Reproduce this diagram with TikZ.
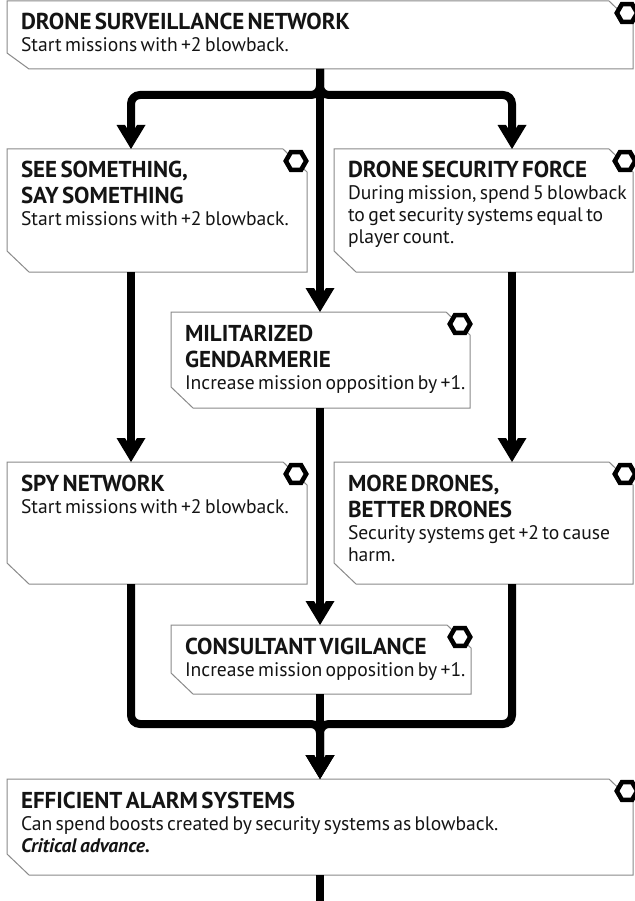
\documentclass[tikz,border=0pt]{standalone}
\usepackage{fontspec}
\setmainfont{PT Sans}
\newfontfamily\ttlfamily{PT Sans}
\usetikzlibrary{arrows.meta}
\setlength{\parindent}{0pt}
\definecolor{boxgray}{HTML}{8A8A8A}
\definecolor{ink}{HTML}{141414}
\pgfdeclarearrow{
  name = Chev,
  setup code = {
    \pgfarrowssettipend{0pt}
    \pgfarrowssetlineend{-12pt}
    \pgfarrowssetbackend{-24pt}
    \pgfarrowssetvisualbackend{-24pt}
    \pgfarrowshullpoint{0pt}{0pt}
    \pgfarrowshullpoint{-24pt}{14.5pt}
    \pgfarrowshullpoint{-24pt}{-14.5pt}
  },
  drawing code = {
    \pgfpathmoveto{\pgfqpoint{0pt}{0pt}}
    \pgfpathlineto{\pgfqpoint{-24pt}{14.5pt}}
    \pgfpathlineto{\pgfqpoint{-24pt}{6pt}}
    \pgfpathlineto{\pgfqpoint{-20.7pt}{4pt}}
    \pgfpathlineto{\pgfqpoint{-20.7pt}{-4pt}}
    \pgfpathlineto{\pgfqpoint{-24pt}{-6pt}}
    \pgfpathlineto{\pgfqpoint{-24pt}{-14.5pt}}
    \pgfpathclose
    \pgfusepathqfill
  },
  defaults = {}
}
\tikzset{
  conn/.style={line width=8pt, draw=black, rounded corners=9pt, line cap=butt},
  arr/.style={-Chev},
  boxline/.style={draw=boxgray, line width=1pt, fill=white, line join=miter},
  hexa/.style={draw=black, line width=4.6pt, fill=white, line join=miter},
  txt/.style={anchor=north west, inner sep=0pt, outer sep=0pt, align=left, text=ink, text width=620pt},
  frame/.style={inner sep=0pt, outer sep=0pt, anchor=north west, draw=none}
}
\newcommand\ttl{\ttlfamily\bfseries\fontsize{23}{26}\selectfont\rule{0pt}{20pt}}
\newcommand\bdy{\fontsize{19.6}{22}\selectfont}
% name, x0, y0, x1, y1, bottom-left chamfer height, hexagon x offset from right, content
\newcommand\cbox[8]{%
  \draw[boxline] (#2,#3) -- (#4-24,#3) -- (#4,#3+23) -- (#4,#5) -- (#2+22,#5) -- (#2,#5-#6) -- cycle;
  \node[frame, minimum width=\dimexpr #4pt-#2pt\relax, minimum height=\dimexpr #5pt-#3pt\relax] (#1) at (#2,#3) {};
  \node[txt] (#1-t) at (#2+14,#3+9) {#8};
  \draw[hexa] (#4-#7,#3+12) +(0:10.2) -- +(60:10.2) -- +(120:10.2) -- +(180:10.2) -- +(240:10.2) -- +(300:10.2) -- cycle;
}
\begin{document}
\begin{tikzpicture}[x=1pt, y=-1pt]
\useasboundingbox (0,0) rectangle (634,901);
\fill[white] (0,0) rectangle (634,901);

\coordinate (colL) at (131,0);
\coordinate (colR) at (512,0);
\coordinate (fork) at (320,95);
\coordinate (join) at (320,724);
\coordinate (endb) at (320,910);

\cbox{top}{7}{1}{633}{69}{16}{6}{{\ttl DRONE SURVEILLANCE NETWORK\par}{\bdy Start missions with +2 blowback.\par}}
\cbox{see}{7}{149}{307}{272}{21}{11}{{\ttl SEE SOMETHING,\\SAY SOMETHING\par}{\bdy Start missions with +2 blowback.\par}}
\cbox{dsf}{334}{149}{633}{272}{21}{8}{{\ttl DRONE SECURITY FORCE\par}{\bdy During mission, spend 5 blowback\\to get security systems equal to\\player count.\par}}
\cbox{mil}{171}{312}{470}{408}{21}{10}{{\ttl MILITARIZED\\GENDARMERIE\par}{\bdy Increase mission opposition by +1.\par}}
\cbox{spy}{7}{462}{307}{584}{21}{11}{{\ttl SPY NETWORK\par}{\bdy Start missions with +2 blowback.\par}}
\cbox{more}{334}{462}{633}{584}{21}{8}{{\ttl MORE DRONES,\\BETTER DRONES\par}{\bdy Security systems get +2 to cause\\harm.\par}}
\cbox{cons}{171}{625}{471}{694}{21}{11}{{\ttl CONSULTANT VIGILANCE\par}{\bdy Increase mission opposition by +1.\par}}
\cbox{eff}{7}{779}{633}{875}{21}{6}{{\ttl EFFICIENT ALARM SYSTEMS\par}{\bdy\rule{0pt}{17pt}Can spend boosts created by security systems as blowback.\\{\bfseries\itshape Critical advance.}\par}}

% connectors
\draw[conn,arr] (top.south -| fork) -- (fork) -| (see.north -| colL);
\draw[conn,arr] (top.south -| fork) -- (fork) -| (dsf.north -| colR);
\draw[conn,arr] (top.south -| fork) -- (mil.north -| fork);
\draw[conn,arr] (see.south -| colL) -- (spy.north -| colL);
\draw[conn,arr] (dsf.south -| colR) -- (more.north -| colR);
\draw[conn,arr] (mil.south -| fork) -- (cons.north -| fork);
\draw[conn,arr] (spy.south -| colL) |- (join) -- (eff.north -| join);
\draw[conn,arr] (more.south -| colR) |- (join) -- (eff.north -| join);
\draw[conn,arr] (cons.south -| join) -- (eff.north -| join);
\draw[conn] (eff.south -| join) -- (endb);
\end{tikzpicture}
\end{document}
